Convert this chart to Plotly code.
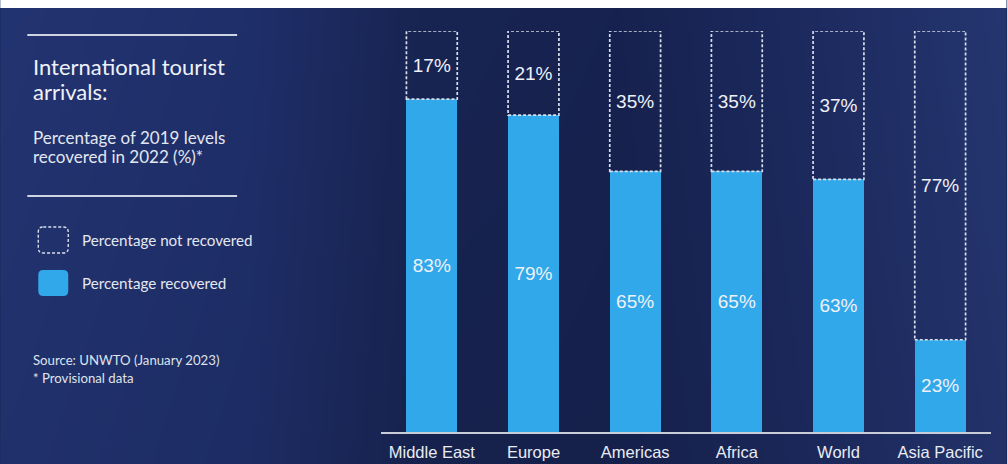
import base64
import struct
import zlib

import numpy as np
import plotly.graph_objects as go

# --- data -------------------------------------------------------------
regions = ["Middle East", "Europe", "Americas", "Africa", "World", "Asia Pacific"]
recovered = [83, 79, 65, 65, 63, 23]
not_recovered = [17, 21, 35, 35, 37, 77]

# --- page geometry ----------------------------------------------------
W, H = 1007, 464
ML, MR, MT, MB = 381, 15.5, 31, 32
PW, PH = W - ML - MR, H - MT - MB
BAR_W = 0.5

BLUE = "#31a8ea"
TEXT = "#eef1f7"
DASH_COL = "#d9deea"


def px(x):
    """page pixel x -> paper x"""
    return (x - ML) / PW


def py(y):
    """page pixel y (from top) -> paper y"""
    return (H - MB - y) / PH


def gradient_png(w, h):
    """Navy background: lighter at the edges, deeper behind the bars."""
    stops_x = np.array([0, 250, 420, 620, 820, 1007]) / W
    stops_c = np.array([
        [0x23, 0x34, 0x72],
        [0x1f, 0x2f, 0x6a],
        [0x18, 0x24, 0x52],
        [0x17, 0x22, 0x50],
        [0x1d, 0x2b, 0x60],
        [0x25, 0x36, 0x70],
    ], dtype=float)
    xs = np.linspace(0, 1, w)
    row = np.stack([np.interp(xs, stops_x, stops_c[:, k]) for k in range(3)], axis=1)
    ys = np.linspace(0, 1, h)
    shade = 1.0 - 0.06 * ys
    img = np.clip(row[None, :, :] * shade[:, None, None], 0, 255).astype(np.uint8)
    raw = b"".join(b"\x00" + img[r].tobytes() for r in range(h))

    def chunk(tag, data):
        c = struct.pack(">I", len(data)) + tag + data
        return c + struct.pack(">I", zlib.crc32(tag + data) & 0xFFFFFFFF)

    png = b"\x89PNG\r\n\x1a\n"
    png += chunk(b"IHDR", struct.pack(">IIBBBBB", w, h, 8, 2, 0, 0, 0))
    png += chunk(b"IDAT", zlib.compress(raw, 9))
    png += chunk(b"IEND", b"")
    return "data:image/png;base64," + base64.b64encode(png).decode()


fig = go.Figure()

BAR_FONT = dict(family="Liberation Sans, Arial", size=19, color=TEXT)

# recovered share (solid blue)
fig.add_trace(go.Bar(
    x=regions, y=recovered, width=BAR_W,
    marker=dict(color=BLUE, line=dict(width=0)),
    text=[f"{v}%" for v in recovered],
    textposition="inside", insidetextanchor="middle", textangle=0,
    textfont=BAR_FONT, constraintext="none", hoverinfo="skip", showlegend=False,
))

# share not recovered (empty, outlined with dashes below)
fig.add_trace(go.Bar(
    x=regions, y=not_recovered, width=BAR_W,
    marker=dict(color="rgba(0,0,0,0)", line=dict(width=0)),
    text=[f"{v}%" for v in not_recovered],
    textposition="inside", insidetextanchor="middle", textangle=0,
    textfont=BAR_FONT, constraintext="none", hoverinfo="skip", showlegend=False,
))

shapes = []
# dashed outline around each not-recovered segment
for i, (r, n) in enumerate(zip(recovered, not_recovered)):
    shapes.append(dict(
        type="rect", xref="x", yref="y",
        x0=i - BAR_W / 2, x1=i + BAR_W / 2, y0=r, y1=r + n,
        line=dict(color=DASH_COL, width=1.7, dash="3px,2px"),
        fillcolor="rgba(0,0,0,0)", layer="above",
    ))

# white strip along the top edge
shapes.append(dict(type="rect", xref="paper", yref="paper",
                   x0=px(0), x1=px(W), y0=py(8), y1=py(0),
                   fillcolor="white", line=dict(width=0), layer="above"))

# rules in the side panel
for yy in (35, 196):
    shapes.append(dict(type="line", xref="paper", yref="paper",
                       x0=px(27), x1=px(237), y0=py(yy), y1=py(yy),
                       line=dict(color="#cdd3e0", width=2)))


def rounded(x0, y0, x1, y1, r):
    X0, X1 = px(x0), px(x1)
    Y0, Y1 = py(y0), py(y1)  # Y0 top, Y1 bottom
    rx, ry = r / PW, r / PH
    return (f"M {X0 + rx},{Y0} L {X1 - rx},{Y0} Q {X1},{Y0} {X1},{Y0 - ry} "
            f"L {X1},{Y1 + ry} Q {X1},{Y1} {X1 - rx},{Y1} "
            f"L {X0 + rx},{Y1} Q {X0},{Y1} {X0},{Y1 + ry} "
            f"L {X0},{Y0 - ry} Q {X0},{Y0} {X0 + rx},{Y0} Z")


# key swatches
shapes.append(dict(type="path", xref="paper", yref="paper",
                   path=rounded(38, 227, 68, 253, 5),
                   line=dict(color=DASH_COL, width=1.4, dash="3px,2px"),
                   fillcolor="rgba(0,0,0,0)"))
shapes.append(dict(type="path", xref="paper", yref="paper",
                   path=rounded(38, 270, 68, 296, 5),
                   line=dict(width=0), fillcolor=BLUE))

SIDE_FONT = "Lato, Noto Sans, sans-serif"
annotations = []


def note(x, y, text, size, color=TEXT):
    annotations.append(dict(
        xref="paper", yref="paper", x=px(x), y=py(y), text=text,
        xanchor="left", yanchor="middle", showarrow=False, align="left",
        font=dict(family=SIDE_FONT, size=size, color=color),
    ))


note(31, 67, "International tourist", 22)
note(31, 92, "arrivals:", 22)
note(31, 137, "Percentage of 2019 levels", 17, "#e3e7f0")
note(31, 156, "recovered in 2022 (%)*", 17, "#e3e7f0")
note(80, 240, "Percentage not recovered", 15.2, "#e3e7f0")
note(80, 283, "Percentage recovered", 15.2, "#e3e7f0")
note(31, 360, "Source: UNWTO (January 2023)", 13.2, "#dfe3ec")
note(31, 378, "* Provisional data", 13.2, "#dfe3ec")

fig.update_layout(
    width=W, height=H,
    margin=dict(l=ML, r=MR, t=MT, b=MB, pad=0, autoexpand=False),
    paper_bgcolor="#19244f", plot_bgcolor="rgba(0,0,0,0)",
    barmode="stack", bargap=0.5,
    showlegend=False,
    shapes=shapes, annotations=annotations,
    images=[dict(source=gradient_png(252, 116), xref="paper", yref="paper",
                 x=px(0), y=py(0), sizex=W / PW, sizey=H / PH,
                 xanchor="left", yanchor="top", sizing="stretch",
                 layer="below", opacity=1)],
    xaxis=dict(
        type="category", range=[-0.5, len(regions) - 0.5],
        automargin=False,
        showline=True, linecolor="#c9cdd8", linewidth=2,
        showgrid=False, zeroline=False,
        ticks="", ticklabelstandoff=4,
        tickfont=dict(family="Liberation Sans, Arial", size=16.5, color="#e9ecf3"),
        fixedrange=True,
    ),
    yaxis=dict(range=[0, 100], visible=False, fixedrange=True, automargin=False),
)

fig.write_html("out.html")
